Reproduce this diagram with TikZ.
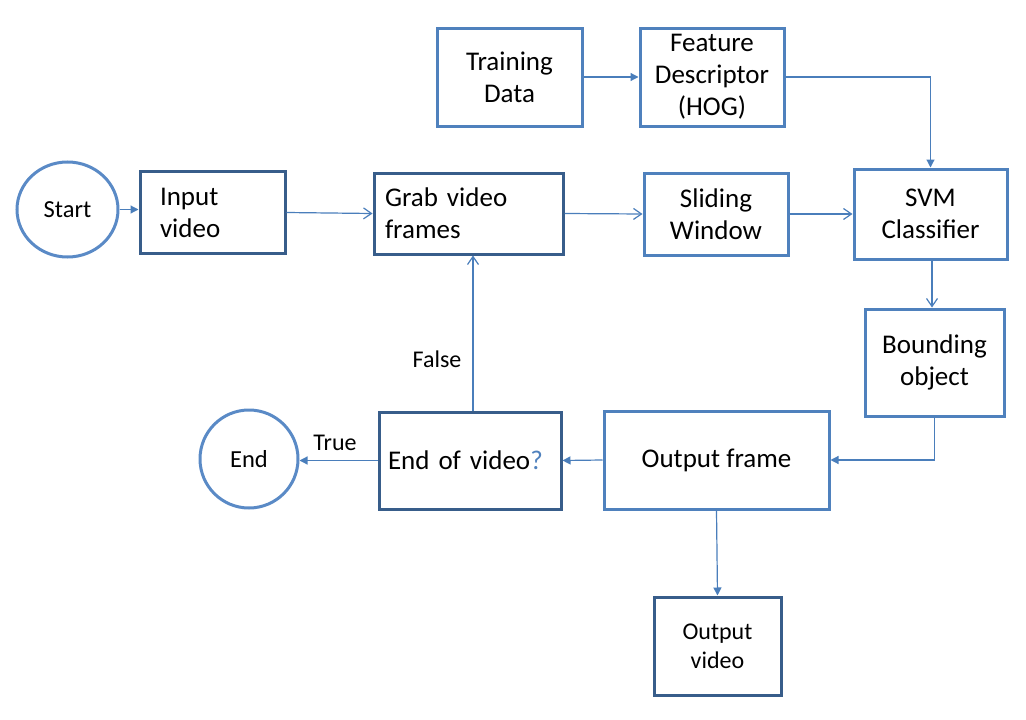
\documentclass[tikz,border=0pt]{standalone}
\usepackage{fontspec}
\setmainfont{Carlito}
\usetikzlibrary{arrows.meta,shapes.geometric}
\definecolor{lightb}{HTML}{4F81BD}
\definecolor{darkb}{HTML}{385D8A}
\definecolor{linec}{HTML}{4A7EBB}
\definecolor{circc}{HTML}{5A8AC6}
\begin{document}
\begin{tikzpicture}[x=1pt,y=-1pt,
  box/.style={draw=lightb, line width=3pt, rectangle, inner sep=0pt,
    font=\fontsize{27}{32}\selectfont, align=center},
  dbox/.style={box, draw=darkb},
  circ/.style={draw=circc, line width=3pt, ellipse, inner sep=0pt,
    font=\fontsize{24.5}{29}\selectfont},
  conn/.style={draw=linec, line width=1.2pt},
  fa/.style={conn, -{Triangle[length=8pt,width=8pt]}},
  oa/.style={conn, -{Straight Barb[length=8pt,width=11pt,line width=1.2pt]}},
  lbl/.style={font=\fontsize{24}{29}\selectfont, inner sep=0pt}
]
\useasboundingbox (0,0) rectangle (1026,720);

% nodes
\node[circ, minimum width=101pt, minimum height=95pt] (start) at (67.5,209.5) {Start};
\node[dbox, minimum width=145pt, minimum height=82pt, text width=105pt, align=left] (input) at (212.5,212.5) {Input\\video};
\node[dbox, minimum width=189pt, minimum height=81pt, text width=167pt, align=left] (grab) at (468.5,213.5) {Grab video\\frames};
\node[box, minimum width=144pt, minimum height=82pt] (slide) at (716,214) {Sliding\\Window};
\node[box, minimum width=153pt, minimum height=90pt] (svm) at (930.5,214) {SVM\\Classifier};
\node[box, minimum width=145pt, minimum height=98pt] (train) at (509.5,77) {Training\\Data};
\node[box, minimum width=144pt, minimum height=98pt] (feat) at (712,77) {Feature\\Descriptor\\(HOG)};
\node[box, minimum width=139pt, minimum height=107pt] (bound) at (934.5,362.5) {Bounding\\object};
\node[box, minimum width=225pt, minimum height=98pt] (oframe) at (716.5,460) {Output frame};
\node[dbox, minimum width=182pt, minimum height=97pt, text width=164pt, align=left] (endvid) at (470,460.5) {End of video\textcolor{lightb}{?}};
\node[circ, minimum width=98pt, minimum height=98pt] (endc) at (249,459) {End};
\node[dbox, minimum width=127pt, minimum height=98pt, font=\fontsize{24}{29}\selectfont] (ovideo) at (717.5,646) {Output\\video};

\node[lbl] (true) at (335,443) {True};
\node[lbl] (false) at (437,359) {False};

% connectors
\draw[fa] (start.east) -- (input.west |- start.east);
\draw[oa] (input.east) -- (grab.west);
\draw[oa] (grab.east) -- (slide.west);
\draw[oa] (slide.east) -- (svm.west);
\draw[fa] (train.east) -- (feat.west);
\draw[fa] (feat.east) -| (svm.north);
\draw[oa] ([xshift=1.5pt]svm.south) -- ([xshift=1.5pt]svm.south |- bound.north);
\draw[fa] (bound.south) |- (oframe.east);
\draw[fa] (oframe.west) -- (endvid.east);
\draw[fa] (endvid.west) -- (endvid.west -| endc.east);
\draw[oa] ([xshift=3pt]endvid.north) -- ([xshift=3pt]endvid.north |- grab.south);
\draw[fa] (oframe.south) -- (ovideo.north);
\end{tikzpicture}
\end{document}
